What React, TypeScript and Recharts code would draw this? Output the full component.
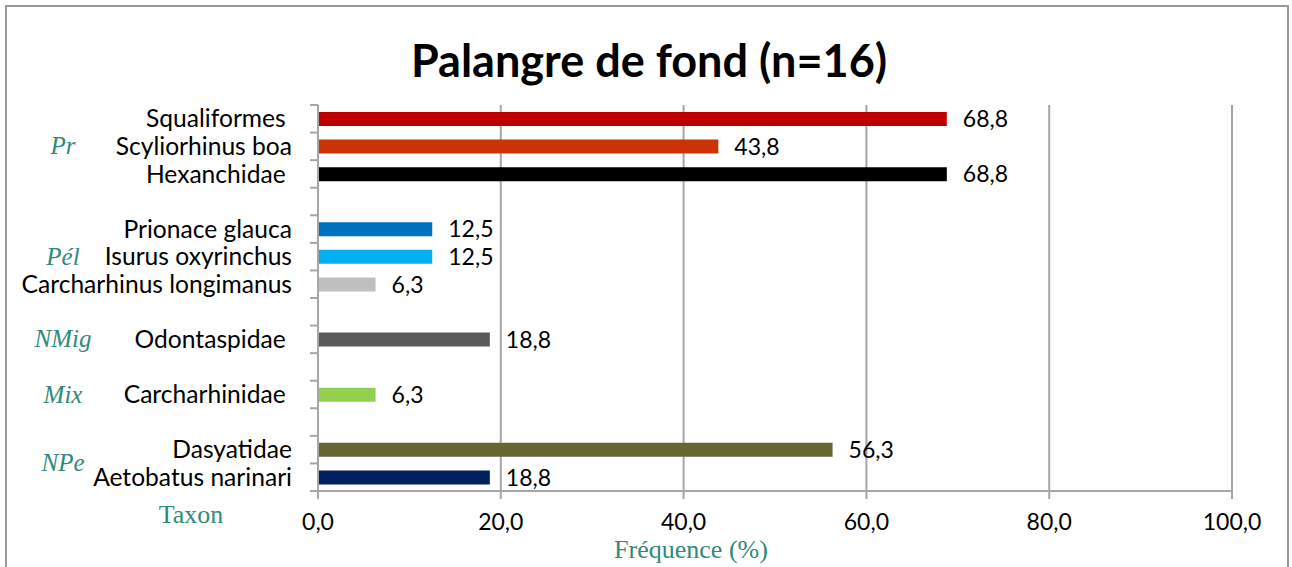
import { Bar, BarChart, CartesianGrid, Cell, LabelList, XAxis, YAxis } from "recharts";

const taxa = [
  "Squaliformes ",
  "Scyliorhinus boa",
  "Hexanchidae ",
  "",
  "Prionace glauca",
  "Isurus oxyrinchus",
  "Carcharhinus longimanus",
  "",
  "Odontaspidae ",
  "",
  "Carcharhinidae ",
  "",
  "Dasyatidae",
  "Aetobatus narinari",
];
const frequencies = [68.8, 43.8, 68.8, null, 12.5, 12.5, 6.3, null, 18.8, null, 6.3, null, 56.3, 18.8];
const barColors = [
  "#c00000",
  "#cc3300",
  "#000000",
  "transparent",
  "#0070c0",
  "#00b0f0",
  "#bfbfbf",
  "transparent",
  "#595959",
  "transparent",
  "#92d050",
  "transparent",
  "#666633",
  "#002060",
];
// group label + the row it sits next to
const groupLabels = ["Pr", "Pél", "NMig", "Mix", "NPe"];
const groupRows = [1, 5, 8, 10, 12.5];
const xTicks = [0, 20, 40, 60, 80, 100];

const W = 1292;
const H = 567;
const PLOT_TOP = 105;
const PLOT_BOTTOM = 491;
const AXIS_X = 318;
const BAND = (PLOT_BOTTOM - PLOT_TOP) / taxa.length;
const GRID = "#a6a6a6";
const TEAL = "#31897b";
const SANS = "Lato, 'Noto Sans', sans-serif";
const SERIF = "'Liberation Serif', 'DejaVu Serif', serif";

const data = taxa.map((name, i) => ({ row: String(i), name, value: frequencies[i] }));

const fmt = (v: number | null | undefined) =>
  v == null ? "" : v.toFixed(1).replace(".", ",");

function TaxonTick(props: any) {
  const { y, payload, index } = props;
  const top = y - BAND / 2;
  return (
    <g>
      <line x1={AXIS_X - 8} x2={AXIS_X} y1={top} y2={top} stroke={GRID} strokeWidth={2} />
      {index === taxa.length - 1 && (
        <line x1={AXIS_X - 8} x2={AXIS_X} y1={y + BAND / 2} y2={y + BAND / 2} stroke={GRID} strokeWidth={2} />
      )}
      <text
        x={AXIS_X - 26}
        y={y}
        dy="0.35em"
        textAnchor="end"
        fill="#000"
        fontSize={24.6}
        fontFamily={SANS}
        style={{ whiteSpace: "pre" }}
      >
        {taxa[Number(payload.value)]}
      </text>
    </g>
  );
}

export default function App() {
  return (
    <div style={{ position: "absolute", left: 0, top: 0, width: W, height: H, background: "#fff", overflow: "hidden" }}>
      <div
        style={{
          position: "absolute",
          left: 5,
          top: 5,
          width: 1284,
          height: 600,
          border: "2px solid #9a9a9a",
          boxSizing: "border-box",
        }}
      />
      <BarChart
        width={W}
        height={H}
        data={data}
        layout="vertical"
        margin={{ top: PLOT_TOP, right: W - 1232, bottom: 36, left: 0 }}
        style={{ position: "absolute", left: 0, top: 0 }}
      >
        <CartesianGrid horizontal={false} stroke={GRID} strokeWidth={2} />
        <XAxis
          type="number"
          domain={[0, 100]}
          ticks={xTicks}
          tickFormatter={fmt}
          height={40}
          axisLine={{ stroke: GRID, strokeWidth: 2 }}
          tickLine={{ stroke: GRID, strokeWidth: 2 }}
          tickSize={8}
          tickMargin={15}
          tick={{ fill: "#000", fontSize: 23, fontFamily: SANS }}
        />
        <YAxis
          type="category"
          dataKey="row"
          width={AXIS_X}
          axisLine={{ stroke: GRID, strokeWidth: 2 }}
          tickLine={false}
          interval={0}
          tick={<TaxonTick />}
        />
        <Bar dataKey="value" barSize={14} isAnimationActive={false}>
          {data.map((_, i) => (
            <Cell key={`cell-${i}`} fill={barColors[i]} />
          ))}
          <LabelList
            dataKey="value"
            position="right"
            offset={16}
            formatter={(v: any) => fmt(v)}
            fill="#000"
            fontSize={23}
            fontFamily={SANS}
          />
        </Bar>
      </BarChart>

      <div
        style={{
          position: "absolute",
          left: 649,
          top: 60,
          transform: "translate(-50%, -50%)",
          fontFamily: SANS,
          fontWeight: 700,
          fontSize: 45,
          whiteSpace: "nowrap",
          lineHeight: 1,
        }}
      >
        Palangre de fond (n=16)
      </div>

      {groupLabels.map((g, i) => (
        <div
          key={g}
          style={{
            position: "absolute",
            left: 63,
            top: PLOT_TOP + (groupRows[i] + 0.5) * BAND - 1,
            transform: "translate(-50%, -50%)",
            fontFamily: SERIF,
            fontStyle: "italic",
            fontSize: 25,
            color: TEAL,
            lineHeight: 1,
            whiteSpace: "nowrap",
          }}
        >
          {g}
        </div>
      ))}

      <div
        style={{
          position: "absolute",
          left: 191,
          top: 515,
          transform: "translate(-50%, -50%)",
          fontFamily: SERIF,
          fontSize: 26,
          color: TEAL,
          lineHeight: 1,
          whiteSpace: "nowrap",
        }}
      >
        Taxon
      </div>
      <div
        style={{
          position: "absolute",
          left: 691,
          top: 550,
          transform: "translate(-50%, -50%)",
          fontFamily: SERIF,
          fontSize: 26,
          color: TEAL,
          lineHeight: 1,
          whiteSpace: "nowrap",
        }}
      >
        Fréquence (%)
      </div>
    </div>
  );
}
